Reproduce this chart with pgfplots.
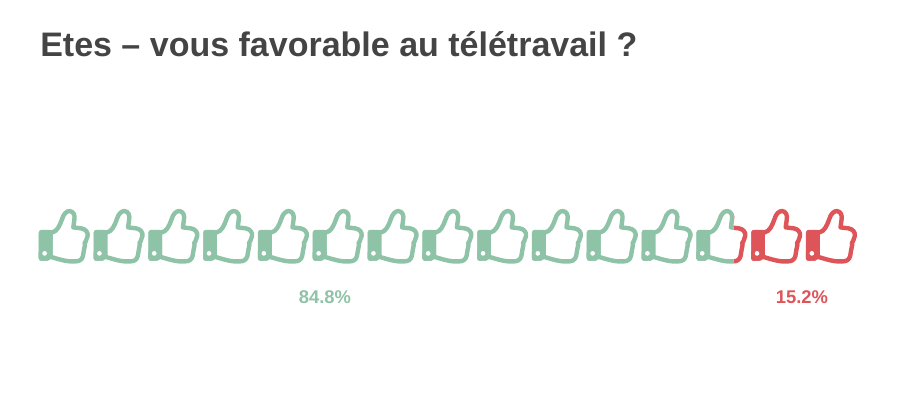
\documentclass[border=0pt]{standalone}
\usepackage{fontspec}
\setmainfont{Liberation Sans}
\usepackage{pgfplots}
\pgfplotsset{compat=1.18}
\definecolor{oui}{HTML}{8FC3A7}
\definecolor{non}{HTML}{DE5559}
\definecolor{titre}{HTML}{444444}
% thumb icon, coordinates in zoomed pixels (1 px = 3 units), centred on (104,110)
\newcommand{\thumb}[1]{%
  \pgftransformshift{\pgfpoint{-26pt}{27.5pt}}%
  \begin{scope}[x=0.25pt,y=-0.25pt]
    \draw[#1,line width=3.3pt,line join=round,fill=white]
      (62,97) -- (68,97) .. controls (82,94) and (90,78) .. (97,58)
      .. controls (102,40) and (112,33) .. (120,33)
      .. controls (132,34) and (137,46) .. (134,60)
      -- (131,82) -- (155,85)
      .. controls (168,87) and (176,97) .. (174,108)
      -- (168,125) -- (165,128) -- (166,135) -- (163,150) -- (160,168)
      .. controls (157,180) and (148,184) .. (138,184)
      .. controls (115,186) and (95,180) .. (62,170) -- cycle;
    \fill[#1,rounded corners=2pt] (28,90) -- (68,90) -- (68,177) -- (28,182) -- cycle;
    \fill[#1,rounded corners=2pt] (28,150) rectangle (60,182);
    \fill[white] (45,160) circle (6);
  \end{scope}}
\pgfdeclareplotmark{thumbo}{\thumb{oui}}
\pgfdeclareplotmark{thumbn}{\thumb{non}}
% the 13th thumb changes colour at 84.8 %
\pgfdeclareplotmark{thumbsa}{%
  \pgfpathrectangle{\pgfpoint{-30pt}{-30pt}}{\pgfpoint{38.7pt}{60pt}}\pgfusepath{clip}\thumb{oui}}
\pgfdeclareplotmark{thumbsb}{%
  \pgfpathrectangle{\pgfpoint{8.7pt}{-30pt}}{\pgfpoint{21.3pt}{60pt}}\pgfusepath{clip}\thumb{non}}
\begin{document}
\begin{tikzpicture}
\begin{axis}[
  width=685.5pt, height=300pt, scale only axis,
  xmin=0, xmax=914, ymin=0, ymax=400, y dir=reverse,
  hide axis, clip=false,
]
\path (axis cs:0,0) rectangle (axis cs:914,400);
\addplot[only marks, mark=thumbo] coordinates {
  (64.3,236.7)(119.1,236.7)(173.9,236.7)(228.7,236.7)(283.5,236.7)(338.3,236.7)
  (393.1,236.7)(447.9,236.7)(502.7,236.7)(557.5,236.7)(612.3,236.7)(667.1,236.7)};
\addplot[only marks, mark=thumbsa] coordinates {(721.9,236.7)};
\addplot[only marks, mark=thumbsb] coordinates {(721.9,236.7)};
\addplot[only marks, mark=thumbn] coordinates {(776.7,236.7)(831.5,236.7)};
\node[anchor=base west, text=titre, font=\fontsize{25.5pt}{30pt}\selectfont\bfseries, inner sep=0pt]
  at (axis cs:40,56.5) {Etes – vous favorable au télétravail ?};
\node[anchor=base, text=oui, font=\fontsize{13.8pt}{15pt}\selectfont\bfseries, inner sep=0pt]
  at (axis cs:325,303) {84.8\%};
\node[anchor=base, text=non, font=\fontsize{13.8pt}{15pt}\selectfont\bfseries, inner sep=0pt]
  at (axis cs:802,303) {15.2\%};
\end{axis}
\end{tikzpicture}
\end{document}
